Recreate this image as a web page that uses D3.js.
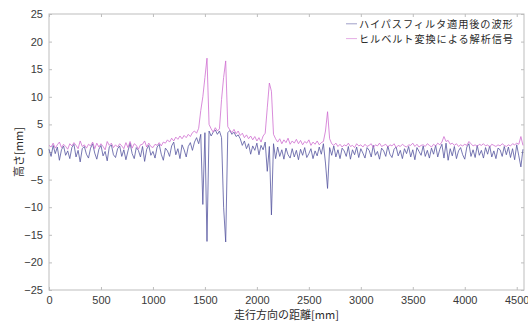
<!DOCTYPE html>
<html>
<head>
<meta charset="utf-8">
<script src="https://cdn.jsdelivr.net/npm/d3@7"></script>
<style>
  html, body { margin: 0; padding: 0; background: #fff; }
  svg { display: block; }
  .tick text { font-family: "Liberation Sans", Arial, sans-serif; font-size: 11px; fill: #3a3a3a; }
  .jp { font-family: "Noto Sans CJK JP", sans-serif; font-size: 11px; fill: #2a2a2a; }
  .legend-text { font-family: "Noto Sans CJK JP", sans-serif; font-size: 10.2px; letter-spacing: 0.9px; fill: #2a2a2a; }
</style>
</head>
<body>
<svg id="chart" width="528" height="323"></svg>
<script>
// Sampling interval along the track [mm]
const sampleStep = 20;

// High-pass filtered waveform [mm], one value per sample from 0 mm
const highPass = [
  0.5, -0.8, 1.2, -0.3, 0.9, -1.5, 0.4, 1.1, -0.6, 0.2,
  -1.2, 0.8, 1.4, -0.9, 0.3, -1.8, 0.6, 1.0, -0.4, -1.1,
  0.7, 1.5, -0.2, -1.3, 0.5, 1.2, -0.7, 0.1, -1.6, 0.9,
  1.3, -0.5, -1.0, 0.6, 1.1, -0.8, 0.4, -1.4, 0.2, 1.6,
  -0.3, -1.2, 0.8, 0.3, -0.9, 1.0, -1.7, 0.5, 1.2, -0.6,
  0.1, -1.1, 0.9, 1.4, -0.4, -1.5, 0.7, 0.2, -0.8, 1.1,
  1.8, -0.5, 0.6, -1.2, 1.3, 0.4, -0.9, 1.0, 1.7, 0.3,
  1.8, 2.6, 1.5, 3.2, -9.5, 3.5, -16.2, 3.8, 2.9, 3.6,
  4.0, 3.2, 3.8, 2.6, -10.0, -16.3, 3.5, 3.9, 3.2, 3.6,
  2.8, 3.1, 2.4, 1.2, 2.0, 0.6, 1.5, -0.4, 1.1, 0.3,
  1.6, -0.5, 1.2, 0.4, 1.8, -3.5, 1.0, -11.4, 1.5, -1.2,
  0.9, -0.8, 0.4, -1.3, 0.7, -0.5, -1.1, 0.6, -0.9, 0.3,
  -1.4, 0.5, -0.6, 0.8, -1.0, -0.3, 0.6, -1.2, 0.2, -0.7,
  0.9, -0.4, 1.5, -2.0, -6.6, 0.8, -0.6, 1.1, -0.9, 0.4,
  -1.2, 0.7, 0.2, -0.8, 1.0, -1.3, 0.4, -0.5, 0.9, -1.0,
  0.6, -0.2, -1.1, 0.8, 0.3, -0.9, 1.2, -0.6, 0.1, -1.3,
  0.7, 0.2, -0.8, 1.1, -0.4, -1.0, 0.5, 0.9, -0.7, 0.3,
  -1.2, 0.6, -0.3, 1.0, -0.9, 0.4, -1.4, 0.8, 0.1, -0.6,
  1.1, -0.8, 0.3, -1.1, 0.7, -0.4, 1.2, -0.9, 0.5, 1.4,
  -1.1, 1.6, -1.5, 0.6, -0.7, 1.0, -1.2, 0.2, 0.8, -0.5,
  -1.3, 0.9, 1.5, -0.8, 0.4, -1.0, 1.2, -0.6, 0.3, -1.1,
  0.8, -0.4, 1.1, -0.9, 0.2, -1.2, 0.7, 0.4, -0.8, 1.0,
  -0.5, 0.9, -1.0, 0.6, -1.4, 1.3, -0.7, -2.7, 0.5
];

// Analytic signal (Hilbert transform envelope) [mm]
const hilbert = [
  1.2, 0.9, 1.6, 0.7, 1.3, 1.8, 0.8, 1.4, 1.0, 0.5,
  1.5, 1.1, 1.7, 1.2, 0.6, 2.0, 1.0, 1.3, 0.7, 1.4,
  1.1, 1.8, 0.6, 1.6, 0.9, 1.5, 1.0, 0.4, 1.9, 1.2,
  1.6, 0.8, 1.3, 0.9, 1.5, 1.1, 0.6, 1.7, 0.8, 1.9,
  0.7, 1.5, 1.2, 0.5, 1.3, 1.4, 2.0, 0.9, 1.6, 1.0,
  0.8, 1.4, 1.2, 1.7, 1.1, 1.8, 1.6, 2.2, 1.8, 2.5,
  2.0, 2.7, 2.3, 2.9, 2.4, 3.0, 2.6, 3.2, 2.8, 3.5,
  3.8, 3.4, 4.3, 7.5, 10.0, 13.5, 17.0, 5.0, 4.2, 3.6,
  4.4, 3.8, 4.2, 9.5, 13.5, 16.5, 4.6, 4.0, 3.5, 4.1,
  3.3, 3.8, 3.0, 3.4, 2.6, 3.1, 2.4, 2.9, 2.2, 2.8,
  2.0, 2.6, 1.8, 2.9, 3.4, 8.0, 12.5, 11.0, 3.2, 2.4,
  1.8, 2.4, 1.5, 2.2, 1.7, 2.5, 1.4, 2.0, 1.6, 2.3,
  1.5, 2.1, 1.3, 1.9, 1.6, 2.2, 1.2, 1.8, 1.4, 2.0,
  1.3, 1.7, 1.9, 3.8, 7.3, 2.4, 1.5, 1.2, 1.6, 1.0,
  1.4, 0.9, 1.3, 1.1, 1.6, 1.0, 1.2, 0.8, 1.5, 1.1,
  1.3, 0.9, 1.4, 1.0, 1.2, 1.5, 0.8, 1.3, 1.1, 1.6,
  1.0, 1.2, 1.4, 0.9, 1.3, 1.1, 1.5, 0.8, 1.2, 1.0,
  1.4, 1.1, 0.9, 1.3, 1.2, 1.6, 1.0, 1.4, 0.9, 1.2,
  1.3, 1.0, 1.5, 1.2, 0.9, 1.4, 1.1, 1.6, 1.3, 1.8,
  2.8, 1.9, 2.1, 1.4, 1.6, 1.2, 1.5, 1.0, 1.3, 1.1,
  1.4, 1.2, 1.9, 1.5, 1.1, 1.3, 1.0, 1.4, 1.2, 1.5,
  1.1, 1.3, 0.9, 1.4, 1.2, 1.0, 1.3, 1.1, 1.5, 1.2,
  1.0, 1.3, 1.1, 1.5, 1.3, 1.6, 1.4, 2.8, 1.2
];

const xTicks = [0, 500, 1000, 1500, 2000, 2500, 3000, 3500, 4000, 4500];
const yTicks = [-25, -20, -15, -10, -5, 0, 5, 10, 15, 20, 25];
const seriesNames = ["ハイパスフィルタ適用後の波形", "ヒルベルト変換による解析信号"];
const seriesColors = ["#55559f", "#cf6fd0"];
const xLabel = "走行方向の距離[mm]";
const yLabel = "高さ[mm]";

const W = 528, H = 323;
const margin = { left: 49, right: 4, top: 14, bottom: 33 };
const iw = W - margin.left - margin.right;
const ih = H - margin.top - margin.bottom;

const svg = d3.select("#chart");
const g = svg.append("g").attr("transform", `translate(${margin.left},${margin.top})`);

const x = d3.scaleLinear().domain([0, 4570]).range([0, iw]);
const y = d3.scaleLinear().domain([-25, 25]).range([ih, 0]);

const axisColor = "#bdbdbd";
const tickLen = 3;

function styleAxis(sel, showText) {
  sel.select(".domain").remove();
  sel.selectAll(".tick line").attr("stroke", axisColor);
  if (!showText) sel.selectAll(".tick text").remove();
}

// Inward ticks on all four sides
g.append("g").attr("transform", `translate(0,${ih})`)
  .call(d3.axisBottom(x).tickValues(xTicks).tickSize(-tickLen).tickPadding(6).tickFormat(d3.format("d")))
  .call(s => styleAxis(s, true));
g.append("g")
  .call(d3.axisTop(x).tickValues(xTicks).tickSize(-tickLen))
  .call(s => styleAxis(s, false));
g.append("g")
  .call(d3.axisLeft(y).tickValues(yTicks).tickSize(-tickLen).tickPadding(6))
  .call(s => styleAxis(s, true));
g.append("g").attr("transform", `translate(${iw},0)`)
  .call(d3.axisRight(y).tickValues(yTicks).tickSize(-tickLen))
  .call(s => styleAxis(s, false));

// Axes box
g.append("rect").attr("x", 0).attr("y", 0).attr("width", iw).attr("height", ih)
  .attr("fill", "none").attr("stroke", axisColor).attr("stroke-width", 1);

const line = d3.line()
  .x((d, i) => x(i * sampleStep))
  .y(d => y(d));

[highPass, hilbert].forEach((vals, k) => {
  g.append("path")
    .datum(vals)
    .attr("fill", "none")
    .attr("stroke", seriesColors[k])
    .attr("stroke-width", 0.8)
    .attr("stroke-linejoin", "round")
    .attr("d", line);
});

// Legend
const legend = svg.append("g").attr("transform", "translate(346,23.8)");
seriesNames.forEach((name, k) => {
  const row = legend.append("g").attr("transform", `translate(0,${k * 14.8})`);
  row.append("line").attr("x1", 0).attr("x2", 11).attr("y1", 0).attr("y2", 0)
    .attr("stroke", seriesColors[k]).attr("stroke-width", 0.8).attr("opacity", 0.7);
  row.append("text").attr("class", "legend-text").attr("x", 13).attr("y", 0)
    .attr("dominant-baseline", "central").text(name);
});

// Axis titles
svg.append("text").attr("class", "jp")
  .attr("x", margin.left + iw / 2).attr("y", 314)
  .attr("text-anchor", "middle").attr("dominant-baseline", "central")
  .text(xLabel);
svg.append("text").attr("class", "jp")
  .attr("transform", `translate(18,${margin.top + ih / 2}) rotate(-90)`)
  .attr("text-anchor", "middle").attr("dominant-baseline", "central")
  .text(yLabel);
</script>
</body>
</html>
